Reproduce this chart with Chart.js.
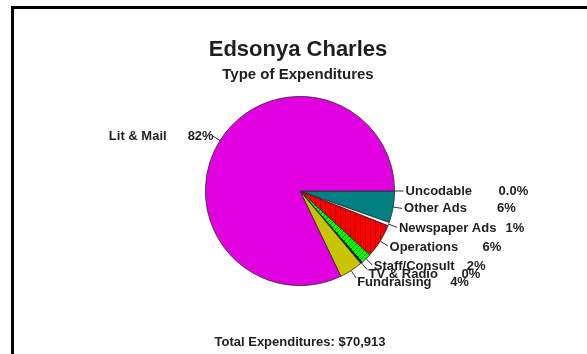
<!DOCTYPE html>
<html>
<head>
<meta charset="utf-8">
<script src="https://cdn.jsdelivr.net/npm/chart.js@4.4.1/dist/chart.umd.min.js"></script>
<style>
  body { margin: 0; background: #fff; }
  #wrap { position: relative; width: 587px; height: 354px; }
  #frame { position: absolute; left: 11px; top: 6px; right: -5px; bottom: -5px;
           border-left: 3px solid #000; border-top: 3px solid #000; pointer-events: none; }
</style>
</head>
<body>
<div id="wrap">
  <canvas id="chart"></canvas>
  <div id="frame"></div>
</div>
<script>
// slices, clockwise from 3 o'clock
const categories = ['Uncodable', 'Other Ads', 'Newspaper Ads', 'Operations', 'Staff/Consult', 'TV & Radio', 'Fundraising', 'Lit & Mail'];
const shares = [0, 5.4, 0.6, 5.8, 1.8, 0.3, 4.0, 82.1];
const pctLabels = ['0.0%', '6%', '1%', '6%', '2%', '0%', '4%', '82%'];
const titleText = 'Edsonya Charles';
const subtitleText = 'Type of Expenditures';
const footerText = 'Total Expenditures: $70,913';

const FONT = '"Liberation Sans", Arial, sans-serif';

// little hatch fills like the old chart
function hatch(base, line, kind) {
    const c = document.createElement('canvas');
    c.width = 5; c.height = 5;
    const g = c.getContext('2d');
    g.fillStyle = base;
    g.fillRect(0, 0, 5, 5);
    g.strokeStyle = line;
    g.lineWidth = 1;
    g.beginPath();
    if (kind === 'v') {
        g.moveTo(0.5, 0); g.lineTo(0.5, 5);
    } else {
        g.moveTo(0, 5); g.lineTo(5, 0);
    }
    g.stroke();
    return g.createPattern(c, 'repeat');
}

const sliceColors = [
    '#008080',
    '#008080',
    '#f4f4f4',
    hatch('#ff0000', '#b00000', 'v'),
    hatch('#00ff00', '#008a00', 'd'),
    '#000080',
    '#c8c400',
    '#e000e0'
];

const labelPlugin = {
    id: 'labels',
    afterDatasetsDraw(chart) {
        const ctx = chart.ctx;
        const meta = chart.getDatasetMeta(0);
        ctx.save();
        ctx.fillStyle = '#1e1e1e';
        ctx.strokeStyle = '#333';
        ctx.lineWidth = 1;
        ctx.textBaseline = 'middle';
        ctx.font = 'bold 13px ' + FONT;
        let lastY = -Infinity;
        meta.data.forEach((arc, i) => {
            const p = arc.getProps(['x', 'y', 'startAngle', 'endAngle', 'outerRadius'], true);
            const mid = (p.startAngle + p.endAngle) / 2;
            const cos = Math.cos(mid), sin = Math.sin(mid);
            const r = p.outerRadius;
            const ax = p.x + (r + 11) * cos;
            let ay = p.y + (r + 11) * sin;
            ctx.beginPath();
            ctx.moveTo(p.x + r * cos, p.y + r * sin);
            ctx.lineTo(p.x + (r + 9) * cos, p.y + (r + 9) * sin);
            ctx.stroke();
            if (cos >= 0) {
                // crowded labels at the bottom get nudged down a bit
                ay = Math.max(ay, lastY + 8);
                lastY = ay;
                ctx.textAlign = 'left';
                ctx.fillText(categories[i], ax, ay);
                const w = ctx.measureText(categories[i]).width;
                ctx.fillText(pctLabels[i], Math.max(ax + 93, ax + w + 9), ay);
            } else {
                ctx.textAlign = 'right';
                ctx.fillText(pctLabels[i], ax + 3, ay + 2);
                const pw = ctx.measureText(pctLabels[i]).width;
                ctx.fillText(categories[i], ax + 3 - pw - 21, ay + 2);
            }
        });
        ctx.textAlign = 'center';
        ctx.font = 'bold 22px ' + FONT;
        ctx.fillText(titleText, 298, 50);
        ctx.font = 'bold 15px ' + FONT;
        ctx.fillText(subtitleText, 298, 75);
        ctx.font = 'bold 13px ' + FONT;
        ctx.fillText(footerText, 300, 342);
        ctx.restore();
    }
};

new Chart(document.getElementById('chart'), {
    type: 'pie',
    data: {
        labels: categories,
        datasets: [{
            data: shares,
            backgroundColor: sliceColors,
            borderColor: '#2a2a2a',
            borderWidth: 0.8
        }]
    },
    options: {
        responsive: true,
        maintainAspectRatio: false,
        animation: false,
        rotation: 90,
        layout: { padding: { left: 205, right: 192, top: 96, bottom: 68 } },
        plugins: {
            legend: { display: false },
            tooltip: { enabled: false },
            title: { display: false }
        }
    },
    plugins: [labelPlugin]
});
</script>
</body>
</html>
